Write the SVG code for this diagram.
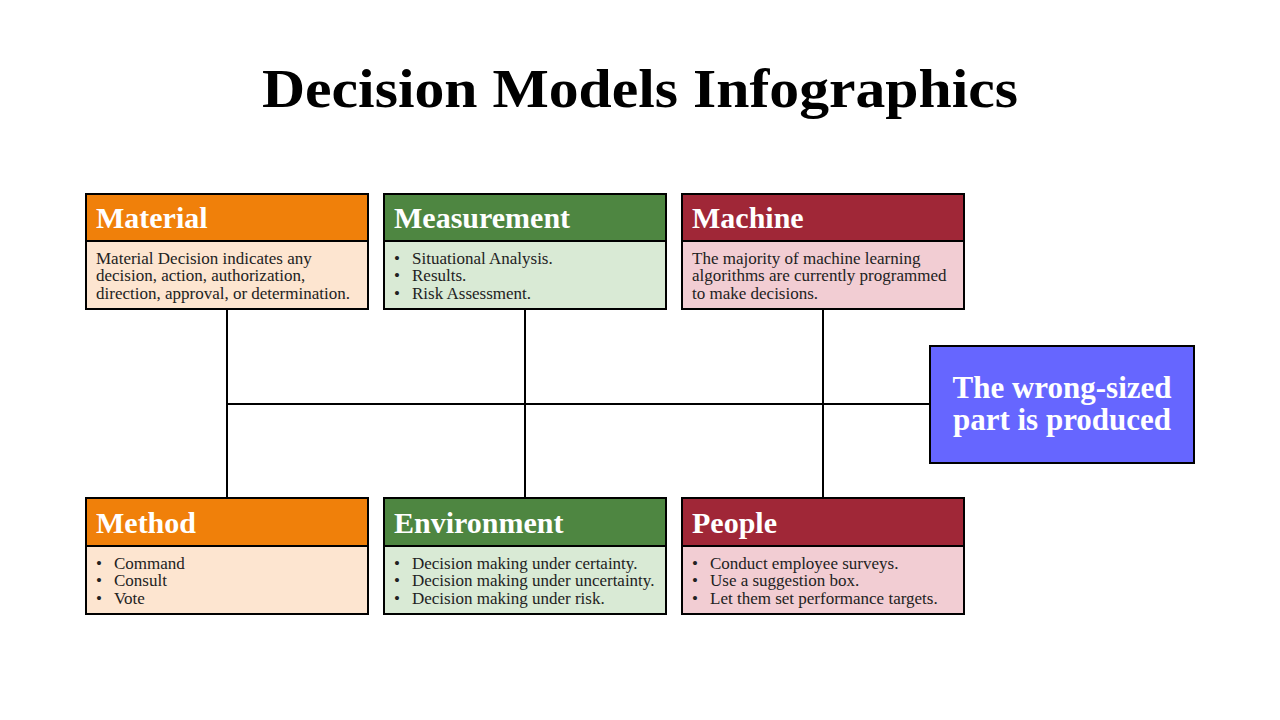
<svg xmlns="http://www.w3.org/2000/svg" width="1280" height="720" viewBox="0 0 1280 720">
<style>
.hd{stroke:#000;stroke-width:2}
.bd{stroke:#000;stroke-width:2}
.ht{font-family:"Liberation Serif","DejaVu Serif",serif;font-weight:bold;font-size:30px;fill:#fff}
.bt{font-family:"Liberation Serif","DejaVu Serif",serif;font-size:17px;fill:#222}
.ln{stroke:#000;stroke-width:2;fill:none}
.rt{font-family:"Liberation Serif","DejaVu Serif",serif;font-weight:bold;font-size:31px;fill:#fff}
</style>
<rect width="1280" height="720" fill="#fff"/>
<text x="640" y="107" text-anchor="middle" font-family="Liberation Serif, DejaVu Serif, serif" font-weight="bold" font-size="54" textLength="756" lengthAdjust="spacingAndGlyphs">Decision Models Infographics</text>
<g id="connectors">
<line class="ln" x1="227" y1="309" x2="227" y2="498"/>
<line class="ln" x1="525" y1="309" x2="525" y2="498"/>
<line class="ln" x1="823" y1="309" x2="823" y2="498"/>
<line class="ln" x1="227" y1="404" x2="930" y2="404"/>
</g>
<g id="material">
<rect class="bd" x="86" y="241" width="282" height="68" fill="#fde5d0"/>
<rect class="hd" x="86" y="194" width="282" height="47" fill="#f0800a"/>
<text class="ht" x="96" y="228">Material</text>
<text class="bt" x="96" y="264">Material Decision indicates any</text>
<text class="bt" x="96" y="281">decision, action, authorization,</text>
<text class="bt" x="96" y="299">direction, approval, or determination.</text>
</g>
<g id="measurement">
<rect class="bd" x="384" y="241" width="282" height="68" fill="#d9ead5"/>
<rect class="hd" x="384" y="194" width="282" height="47" fill="#4e8641"/>
<text class="ht" x="394" y="228">Measurement</text>
<text class="bt" x="394" y="264">•</text><text class="bt" x="412" y="264">Situational Analysis.</text>
<text class="bt" x="394" y="281">•</text><text class="bt" x="412" y="281">Results.</text>
<text class="bt" x="394" y="299">•</text><text class="bt" x="412" y="299">Risk Assessment.</text>
</g>
<g id="machine">
<rect class="bd" x="682" y="241" width="282" height="68" fill="#f2cdd3"/>
<rect class="hd" x="682" y="194" width="282" height="47" fill="#a02737"/>
<text class="ht" x="692" y="228">Machine</text>
<text class="bt" x="692" y="264">The majority of machine learning</text>
<text class="bt" x="692" y="281">algorithms are currently programmed</text>
<text class="bt" x="692" y="299">to make decisions.</text>
</g>
<g id="method">
<rect class="bd" x="86" y="546" width="282" height="68" fill="#fde5d0"/>
<rect class="hd" x="86" y="498" width="282" height="48" fill="#f0800a"/>
<text class="ht" x="96" y="533">Method</text>
<text class="bt" x="96" y="569">•</text><text class="bt" x="114" y="569">Command</text>
<text class="bt" x="96" y="586">•</text><text class="bt" x="114" y="586">Consult</text>
<text class="bt" x="96" y="604">•</text><text class="bt" x="114" y="604">Vote</text>
</g>
<g id="environment">
<rect class="bd" x="384" y="546" width="282" height="68" fill="#d9ead5"/>
<rect class="hd" x="384" y="498" width="282" height="48" fill="#4e8641"/>
<text class="ht" x="394" y="533">Environment</text>
<text class="bt" x="394" y="569">•</text><text class="bt" x="412" y="569">Decision making under certainty.</text>
<text class="bt" x="394" y="586">•</text><text class="bt" x="412" y="586">Decision making under uncertainty.</text>
<text class="bt" x="394" y="604">•</text><text class="bt" x="412" y="604">Decision making under risk.</text>
</g>
<g id="people">
<rect class="bd" x="682" y="546" width="282" height="68" fill="#f2cdd3"/>
<rect class="hd" x="682" y="498" width="282" height="48" fill="#a02737"/>
<text class="ht" x="692" y="533">People</text>
<text class="bt" x="692" y="569">•</text><text class="bt" x="710" y="569">Conduct employee surveys.</text>
<text class="bt" x="692" y="586">•</text><text class="bt" x="710" y="586">Use a suggestion box.</text>
<text class="bt" x="692" y="604">•</text><text class="bt" x="710" y="604">Let them set performance targets.</text>
</g>
<g id="result">
<rect x="930" y="346" width="264" height="117" fill="#6666ff" stroke="#000" stroke-width="2"/>
<text class="rt" x="1062" y="398" text-anchor="middle">The wrong-sized</text>
<text class="rt" x="1062" y="430" text-anchor="middle">part is produced</text>
</g>
</svg>
